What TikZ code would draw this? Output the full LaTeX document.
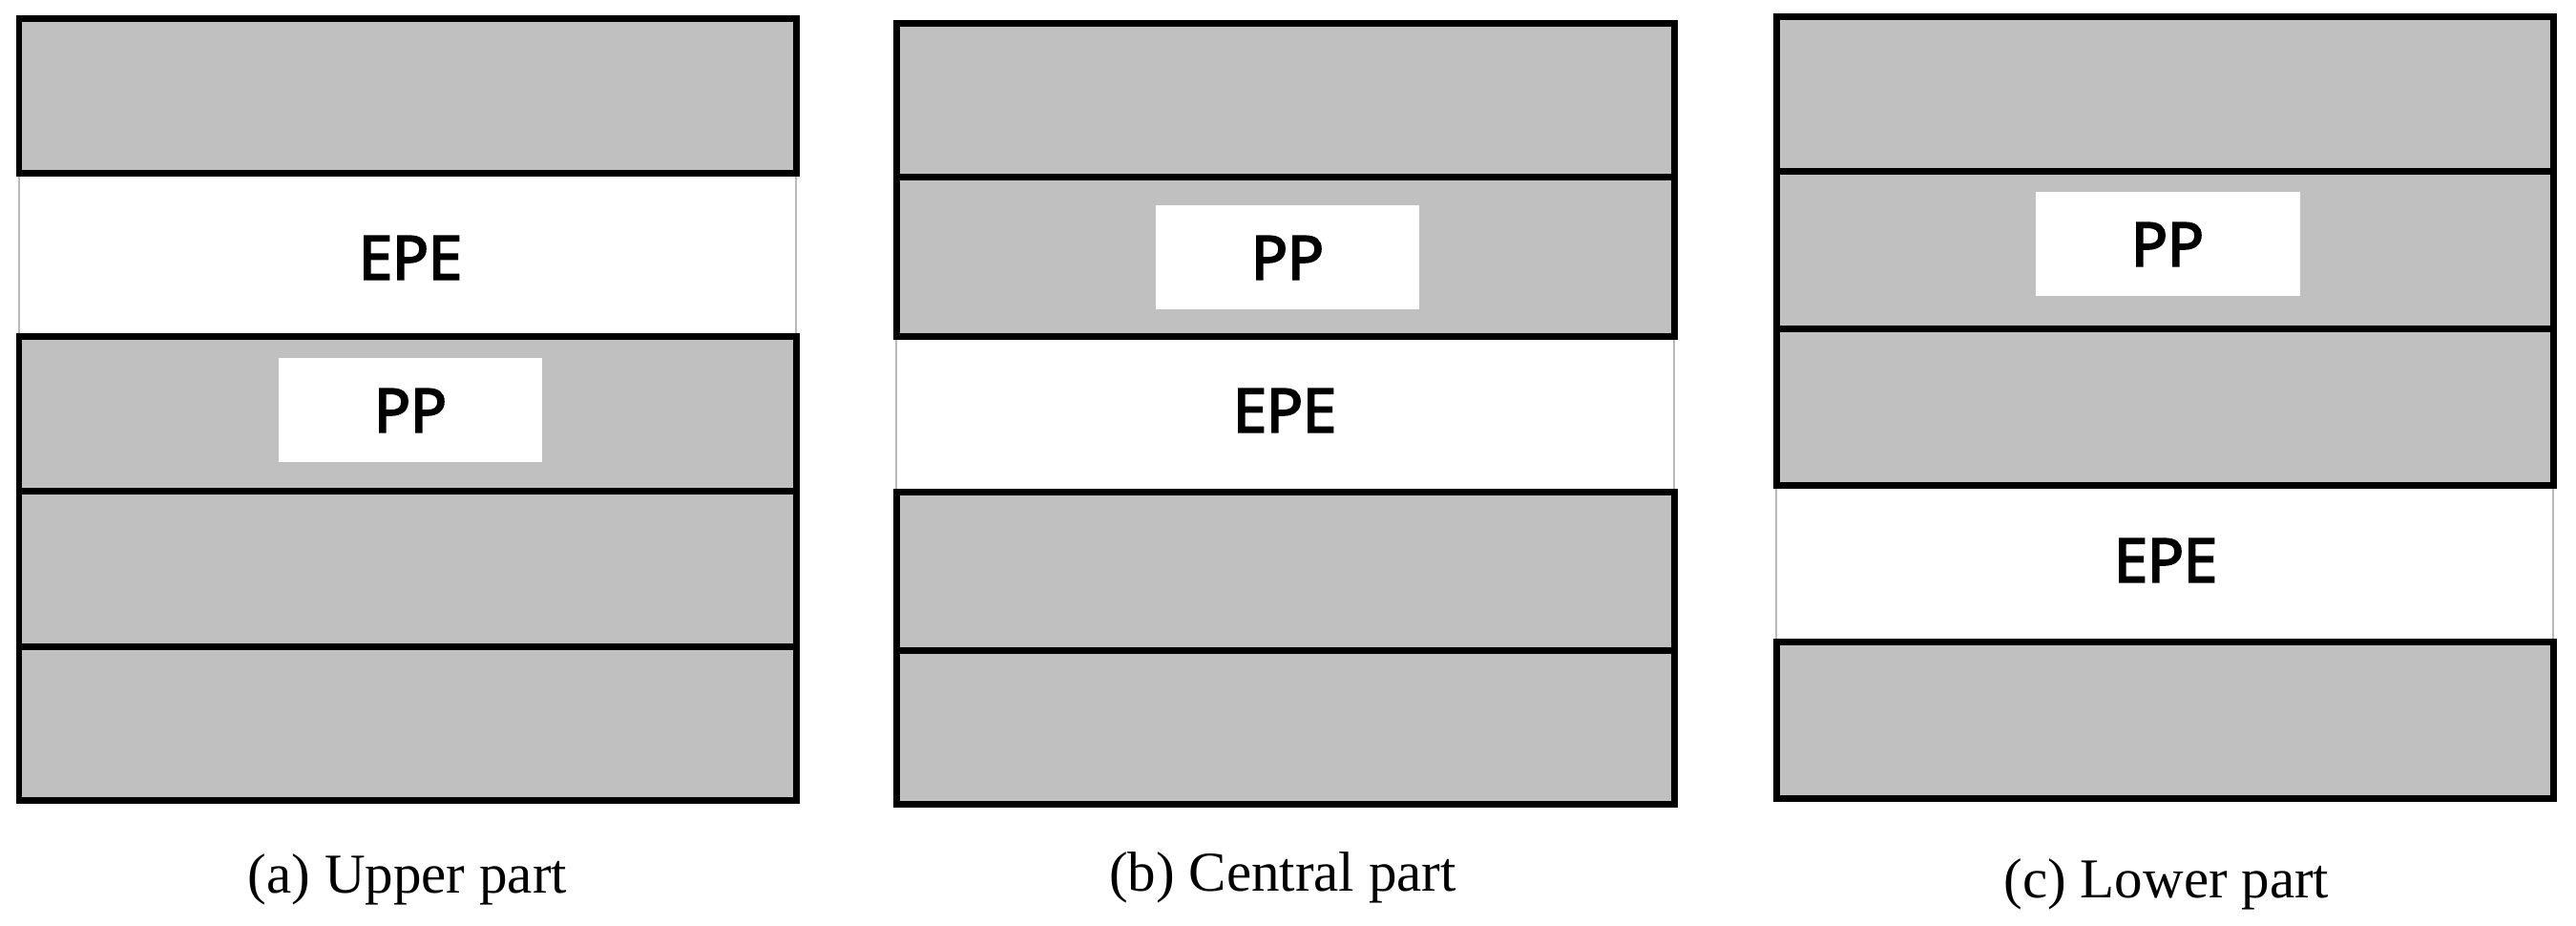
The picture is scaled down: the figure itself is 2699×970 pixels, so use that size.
\documentclass[tikz,border=0pt]{standalone}
\usepackage{fontspec}
\setmainfont{Liberation Serif}
\newfontfamily\labfont[FakeBold=3.5]{Open Sans}
\definecolor{layergrey}{RGB}{192,192,192}
\definecolor{edgegrey}{RGB}{185,185,185}
\begin{document}
\begin{tikzpicture}[x=0.1pt,y=-0.1pt,
  greylayer/.style={fill=layergrey, draw=black, line width=0.7pt},
  whitelayer/.style={fill=white, draw=edgegrey, line width=0.2pt},
  ppbox/.style={fill=white, draw=none, inner sep=0pt, minimum width=27.7pt, minimum height=10.9pt, font=\labfont\fontsize{6.3}{7}\selectfont},
  labtext/.style={inner sep=0pt, font=\labfont\fontsize{6.3}{7}\selectfont},
  captext/.style={inner sep=0pt, anchor=base, font=\fontsize{5.9}{7}\selectfont}]
\useasboundingbox (0,0) rectangle (2699,970);
% ---------- panel (a) ----------
\path[whitelayer] (20,182) rectangle (834,353);
\path[greylayer] (20,20) rectangle (834,182);
\path[greylayer] (20,353) rectangle (834,515);
\path[greylayer] (20,515) rectangle (834,678);
\path[greylayer] (20,678) rectangle (834,839);
\node[labtext] (epea) at (430,270) {EPE};
\node[ppbox] (ppa) at (430,430) {PP};
\node[captext] (capa) at (427,936) {(a) Upper part};
% ---------- panel (b) ----------
\path[whitelayer] (939,353) rectangle (1754,516);
\path[greylayer] (939,25) rectangle (1754,186);
\path[greylayer] (939,186) rectangle (1754,353);
\path[greylayer] (939,516) rectangle (1754,682);
\path[greylayer] (939,682) rectangle (1754,843);
\node[ppbox] (ppb) at (1349,270) {PP};
\node[labtext] (epeb) at (1346,430) {EPE};
\node[captext] (capb) at (1344,934) {(b) Central part};
% ---------- panel (c) ----------
\path[whitelayer] (1861,509) rectangle (2675,673);
\path[greylayer] (1861,18) rectangle (2675,180);
\path[greylayer] (1861,180) rectangle (2675,345);
\path[greylayer] (1861,345) rectangle (2675,509);
\path[greylayer] (1861,673) rectangle (2675,837);
\node[ppbox] (ppc) at (2271,256) {PP};
\node[labtext] (epec) at (2269,587) {EPE};
\node[captext] (capc) at (2270,941) {(c) Lower part};
\end{tikzpicture}
\end{document}
